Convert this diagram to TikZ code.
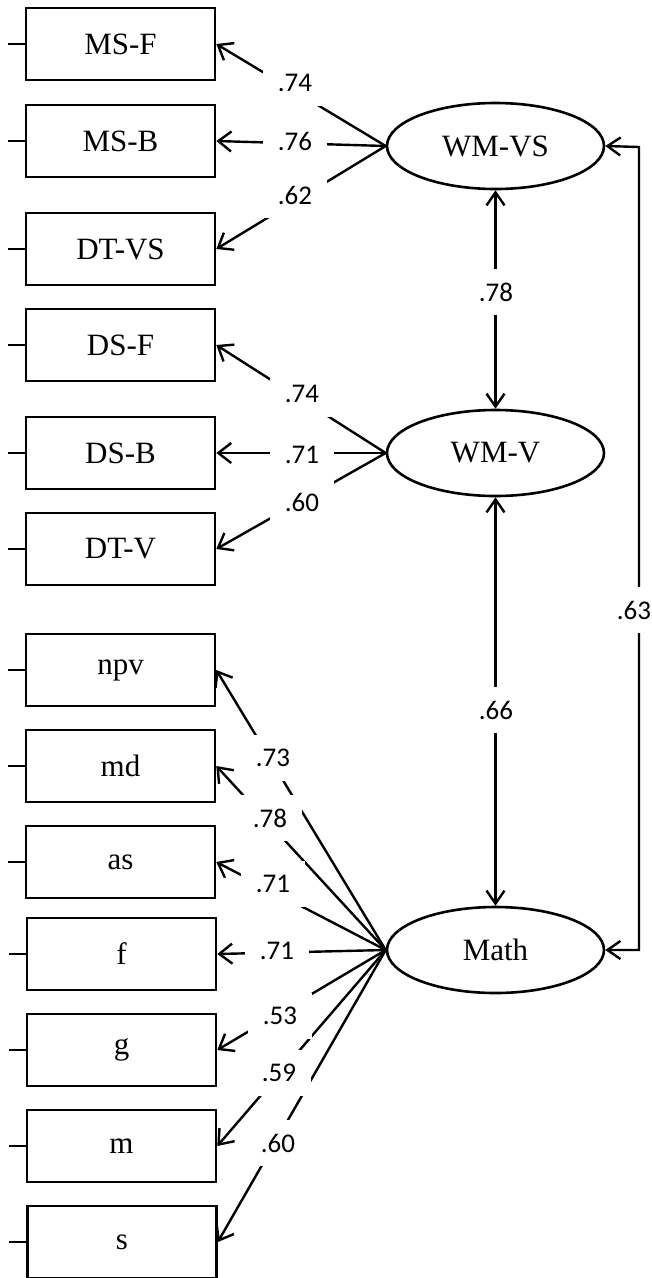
\documentclass[tikz,border=0pt]{standalone}
\usepackage{fontspec}
\setmainfont{Liberation Serif}
\newfontfamily\lblfont{Carlito}
\usetikzlibrary{shapes.geometric,arrows.meta}
\begin{document}
\begin{tikzpicture}[x=1pt,y=-1pt,
  obs/.style={draw,line width=2.6pt,minimum width=189pt,minimum height=72pt,inner sep=0pt,font=\fontsize{31}{36}\selectfont},
  lat/.style={draw,ellipse,line width=2.6pt,minimum width=217pt,minimum height=86pt,inner sep=0pt,font=\fontsize{31}{36}\selectfont},
  conn/.style={line width=2.4pt,-{Straight Barb[length=13pt,width=20pt]}},
  dbl/.style={line width=2.4pt,{Straight Barb[length=13pt,width=18pt]}-{Straight Barb[length=13pt,width=18pt]}},
  lbl/.style={fill=white,font=\lblfont\fontsize{27}{32}\selectfont,inner sep=0pt,minimum width=64pt,minimum height=46pt},
  err/.style={line width=2.4pt}]
\useasboundingbox (0,0) rectangle (652,1278);
% observed variables
\node[obs] (msf) at (120.5,44) {MS-F};
\node[obs] (msb) at (120.5,141) {MS-B};
\node[obs] (dtvs) at (120.5,249) {DT-VS};
\node[obs] (dsf) at (120.5,345) {DS-F};
\node[obs] (dsb) at (120.5,453) {DS-B};
\node[obs] (dtv) at (120.5,549) {DT-V};
\node[obs] (npv) at (120.5,670) {npv};
\node[obs] (md) at (120.5,766) {md};
\node[obs] (as) at (120.5,862) {as};
\node[obs] (f) at (121.5,954) {f};
\node[obs] (g) at (121.5,1050) {g};
\node[obs] (m) at (121.5,1146) {m};
\node[obs] (s) at (122,1242) {s};
% latent variables
\node[lat] (wmvs) at (495.5,146) {WM-VS};
\node[lat] (wmv) at (495.5,453) {WM-V};
\node[lat] (math) at (495.5,950) {Math};
% error stubs
\foreach \b in {msf,msb,dtvs,dsf,dsb,dtv,npv,md,as,f,g,m,s}
  \draw[err] (\b.west) -- ++(-17,0);
% loadings
\draw[conn] (wmvs.west) -- (msf.east);
\draw[conn] (wmvs.west) -- (msb.east);
\draw[conn] (wmvs.west) -- (dtvs.east);
\draw[conn] (wmv.west) -- (dsf.east);
\draw[conn] (wmv.west) -- (dsb.east);
\draw[conn] (wmv.west) -- (dtv.east);
\foreach \b in {npv,md,as,f,g,m,s}
  \draw[conn] (math.west) -- (\b.east);
% correlations
\draw[dbl] (wmvs.south) -- (wmv.north);
\draw[dbl] (wmv.south) -- (math.north);
\coordinate (rc) at (639,147);
\draw[dbl] (wmvs.east) -- (rc) |- (math.east);
% labels
\node[lbl] at (295,83) {.74};
\node[lbl] at (295,141) {.76};
\node[lbl] at (295,195) {.62};
\node[lbl] at (302,394) {.74};
\node[lbl] at (302,455) {.71};
\node[lbl] at (302,502) {.60};
\node[lbl] at (273,758) {.73};
\node[lbl] at (270,818) {.78};
\node[lbl] at (273,884) {.71};
\node[lbl] at (277,951) {.71};
\node[lbl] at (280,1016) {.53};
\node[lbl] at (279,1073) {.59};
\node[lbl] at (278,1143) {.60};
\node[lbl] at (496,292) {.78};
\node[lbl] at (496,710) {.66};
\node[lbl,minimum width=30pt] at (634,610) {.63};
\end{tikzpicture}
\end{document}
